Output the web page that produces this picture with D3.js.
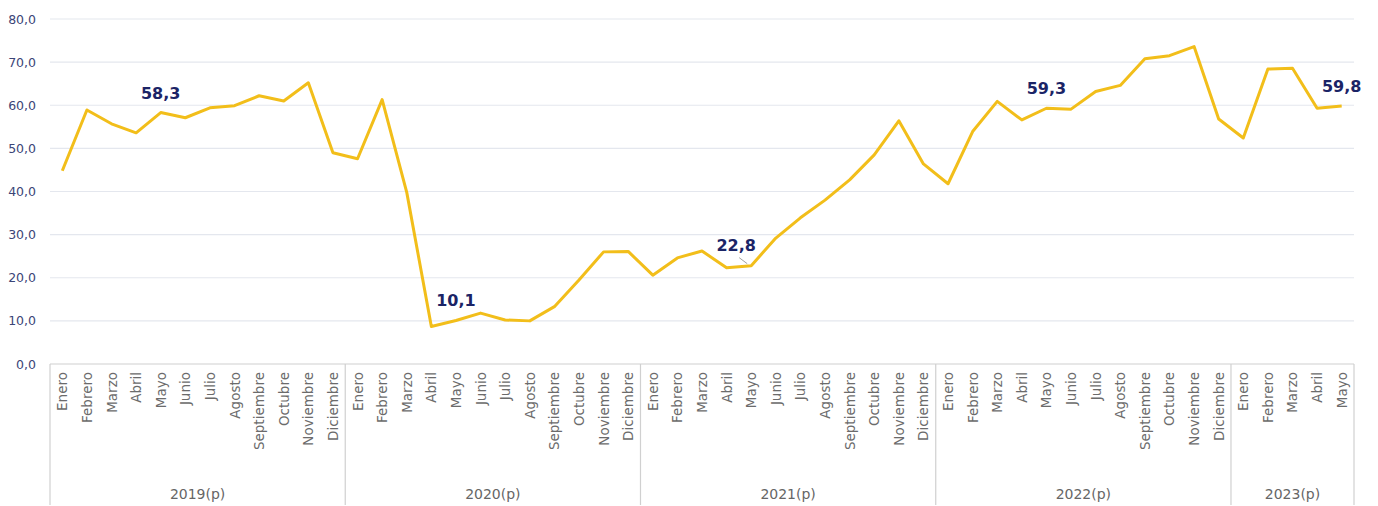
<!DOCTYPE html>
<html><head><meta charset="utf-8">
<script src="https://cdn.jsdelivr.net/npm/d3@7/dist/d3.min.js"></script>
<style>body{margin:0;background:#fff;} svg{display:block;}</style>
</head><body>
<svg id="c" width="1378" height="506"></svg>
<script>
const months = ["Enero","Febrero","Marzo","Abril","Mayo","Junio","Julio","Agosto","Septiembre","Octubre","Noviembre","Diciembre"];
const years = ["2019(p)","2020(p)","2021(p)","2022(p)","2023(p)"];
const monthsPerYear = [12,12,12,12,5];
const values = [
  44.8,58.9,55.7,53.6,58.3,57.1,59.4,59.9,62.2,61.0,65.2,49.0,
  47.6,61.3,39.8,8.7,10.1,11.8,10.2,10.0,13.3,19.5,26.0,26.1,
  20.6,24.6,26.2,22.3,22.8,29.2,33.9,38.0,42.7,48.5,56.4,46.4,
  41.8,53.9,60.9,56.6,59.3,59.1,63.2,64.6,70.8,71.5,73.6,56.8,
  52.4,68.4,68.6,59.3,59.8
];
const labelIdx = [4,16,28,40,52];
const yTicks = [0,10,20,30,40,50,60,70,80];

(function(){
const cats = [];
years.forEach((yr,yi)=>{ for(let m=0;m<monthsPerYear[yi];m++) cats.push({year:yr, month:months[m], key:yr+"-"+m}); });

const svg = d3.select("#c");
const pL=50, pR=1354, pT=19, pB=364;
const x = d3.scaleBand().domain(cats.map(c=>c.key)).range([pL,pR]).padding(0);
const y = d3.scaleLinear().domain([0,80]).range([pB,pT]);
const fmt = v => d3.format(".1f")(v).replace(".", ",");

// gridlines
svg.append("g").selectAll("line").data(yTicks.filter(t=>t>0)).join("line")
  .attr("x1",pL).attr("x2",pR).attr("y1",d=>y(d)).attr("y2",d=>y(d))
  .attr("stroke","#e4e7ee").attr("stroke-width",1.2);

// y axis labels
const yAxis = d3.axisLeft(y).tickValues(yTicks).tickFormat(fmt).tickSize(0).tickPadding(14);
const ya = svg.append("g").attr("transform",`translate(${pL},0)`).call(yAxis);
ya.select(".domain").remove();
ya.selectAll("text").attr("fill","#3b4577").attr("font-family","'DejaVu Sans', sans-serif").attr("font-size",12.5);

// category axis box
const boxBottom = 505;
svg.append("line").attr("x1",pL).attr("x2",pR).attr("y1",pB).attr("y2",pB).attr("stroke","#d0d0d0").attr("stroke-width",1.2);
let idx=0; const seps=[pL];
monthsPerYear.forEach(n=>{ idx+=n; seps.push(x(cats[idx-1].key)+x.bandwidth()); });
svg.append("g").selectAll("line").data(seps).join("line")
  .attr("x1",d=>d).attr("x2",d=>d).attr("y1",pB).attr("y2",boxBottom)
  .attr("stroke","#d0d0d0").attr("stroke-width",1.2);

// month labels
svg.append("g").selectAll("text").data(cats).join("text")
  .attr("transform",d=>`translate(${x(d.key)+x.bandwidth()/2+5},${pB+8}) rotate(-90)`)
  .attr("text-anchor","end").attr("fill","#6b6b6b")
  .attr("font-family","'DejaVu Sans', sans-serif").attr("font-size",13.5)
  .text(d=>d.month);

// year labels
svg.append("g").selectAll("text").data(years).join("text")
  .attr("x",(d,i)=>(seps[i]+seps[i+1])/2).attr("y",499)
  .attr("text-anchor","middle").attr("fill","#666")
  .attr("font-family","'DejaVu Sans', sans-serif").attr("font-size",14)
  .text(d=>d);

// line
const line = d3.line().x((d,i)=>x(cats[i].key)+x.bandwidth()/2).y(d=>y(d));
svg.append("path").datum(values).attr("d",line).attr("fill","none")
  .attr("stroke","#f2be1a").attr("stroke-width",3).attr("stroke-linejoin","round");

// data labels
const lblOffY = {4:-14,16:-14,28:-15,40:-14,52:-14};
const lblDx = {4:0,16:0,28:-15,40:0,52:0};
const li = 28;
svg.append("line").attr("x1",x(cats[li].key)+x.bandwidth()/2-12).attr("y1",y(values[li])-8)
  .attr("x2",x(cats[li].key)+x.bandwidth()/2-4).attr("y2",y(values[li])-2)
  .attr("stroke","#a0a0a0").attr("stroke-width",1);
svg.append("g").selectAll("text").data(labelIdx).join("text")
  .attr("x",i=>x(cats[i].key)+x.bandwidth()/2+lblDx[i])
  .attr("y",i=>y(values[i])+lblOffY[i])
  .attr("text-anchor","middle").attr("fill","#1b2466")
  .attr("font-family","'DejaVu Sans', sans-serif").attr("font-weight","bold").attr("font-size",16)
  .text(i=>fmt(values[i]));
})();
</script>
</body></html>
